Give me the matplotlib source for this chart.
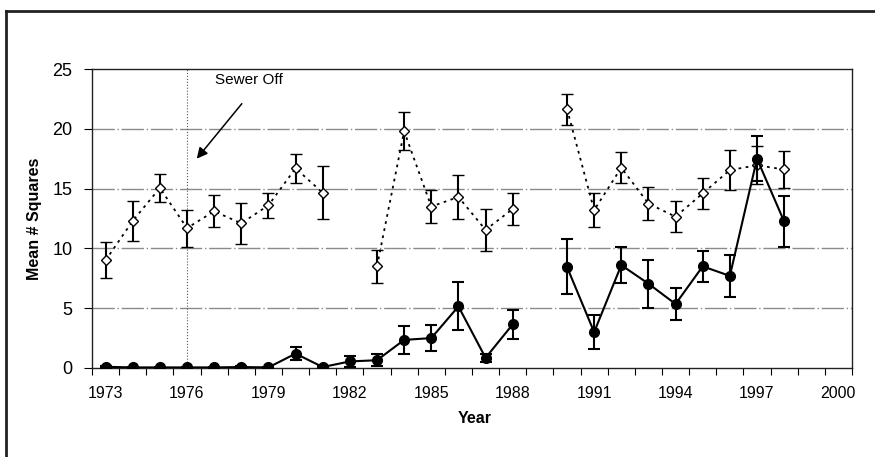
import matplotlib
matplotlib.use('Agg')
import matplotlib.pyplot as plt
import numpy as np
from matplotlib.lines import Line2D

plt.rcParams['font.family'] = ['Liberation Sans', 'DejaVu Sans']

nan = np.nan

# Dados
years = np.arange(1973, 1999)
open_mean = [9.0, 12.3, 15.05, 11.7, 13.1, 12.1, 13.6, 16.7, 14.65, nan,
             8.5, 19.8, 13.5, 14.3, 11.55, 13.3, nan,
             21.65, 13.2, 16.75, 13.75, 12.65, 14.6, 16.55, 16.95, 16.6]
open_err = [1.5, 1.65, 1.2, 1.55, 1.35, 1.7, 1.05, 1.2, 2.2, nan,
            1.4, 1.6, 1.4, 1.8, 1.75, 1.35, nan,
            1.3, 1.4, 1.3, 1.4, 1.3, 1.3, 1.7, 1.6, 1.55]
filled_mean = [0.1, 0.05, 0.05, 0.05, 0.05, 0.08, 0.05, 1.2, 0.08, 0.55,
               0.65, 2.35, 2.5, 5.15, 0.85, 3.65, nan,
               8.45, 3.0, 8.6, 7.05, 5.35, 8.5, 7.7, 17.5, 12.25]
filled_err = [0.1, 0.05, 0.05, 0.05, 0.05, 0.08, 0.05, 0.55, 0.08, 0.45,
              0.5, 1.15, 1.1, 2.0, 0.35, 1.2, nan,
              2.3, 1.4, 1.5, 2.0, 1.3, 1.3, 1.75, 1.9, 2.1]

label_years = np.arange(1973, 2001, 3)
sewer_year = 1976

fig = plt.figure(figsize=(8.75, 4.57), dpi=100)
ax = fig.add_axes([92 / 875, 89 / 457, 760 / 875, 299 / 457])

# grade
for yv in [5, 10, 15, 20]:
    ax.axhline(yv, color='#8a8a8a', lw=1.0, linestyle=(0, (16, 2, 1, 2)), zorder=1)
ax.axvline(sewer_year, color='#555555', lw=0.8, linestyle=':', zorder=1)

ax.errorbar(years, open_mean, yerr=open_err, fmt='D', color='black',
            markerfacecolor='white', markeredgecolor='black', markersize=5.5,
            markeredgewidth=1.0, ecolor='black', elinewidth=1.5, capsize=4,
            capthick=1.5, zorder=3)
ax.plot(years, open_mean, color='black', lw=1.3, linestyle=(0, (1.5, 2.5)), zorder=2)

ax.errorbar(years, filled_mean, yerr=filled_err, fmt='o', color='black',
            markersize=7, ecolor='black', elinewidth=1.5, capsize=4,
            capthick=1.5, zorder=4)
ax.plot(years, filled_mean, '-', color='black', lw=1.5, zorder=4)

ax.annotate('', xy=(1976.36, 17.5), xytext=(1978.02, 22.1),
            arrowprops=dict(arrowstyle='-|>', color='black', lw=1.1,
                            mutation_scale=16, shrinkA=0, shrinkB=0))
ax.text(1978.27, 24.1, 'Sewer Off', ha='center', va='center', fontsize=11)

ax.set_xlim(1972.5, 2000.5)
ax.set_ylim(0, 25)
ax.set_xticks(label_years)
ax.set_xticklabels([str(y) for y in label_years], fontsize=11.5)
ax.set_xticks(np.arange(1972.5, 2001, 1), minor=True)
ax.tick_params(axis='x', which='major', length=0, pad=13)
ax.tick_params(axis='x', which='minor', length=5, width=0.8, direction='out')
ax.set_yticks([0, 5, 10, 15, 20, 25])
ax.tick_params(axis='y', labelsize=13, length=6, width=0.8, pad=8)

for s in ax.spines.values():
    s.set_linewidth(1.0)
    s.set_color('#222222')

ax.set_xlabel('Year', fontsize=11.5, fontweight='bold')
ax.xaxis.set_label_coords(0.503, -0.145)
ax.set_ylabel('Mean # Squares', fontsize=11.5, fontweight='bold')
ax.yaxis.set_label_coords(-0.066, 0.5)

# moldura externa
fig.add_artist(Line2D([6 / 875, 6 / 875], [0, 1 - 11 / 457], transform=fig.transFigure,
                      color='#222222', lw=2))
fig.add_artist(Line2D([6 / 875, 1], [1 - 11 / 457, 1 - 11 / 457], transform=fig.transFigure,
                      color='#222222', lw=2))

fig.savefig('out.png', dpi=100)
